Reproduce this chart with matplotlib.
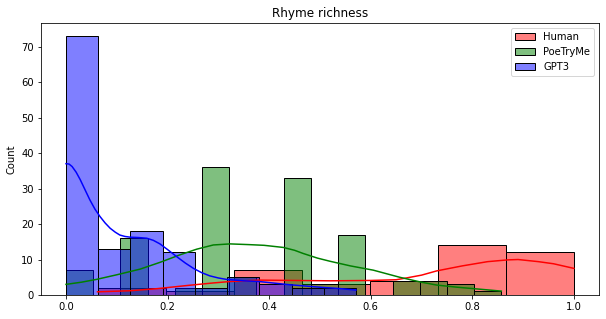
import numpy as np
import matplotlib
matplotlib.use('Agg')
import matplotlib.pyplot as plt
from matplotlib.colors import to_rgba

# Histogram bins (each series has its own auto bins)
human_edges = np.linspace(0.0625, 1.0, 8)
human_counts = [2, 1, 7, 3, 4, 14, 12]
poetryme_edges = np.linspace(0.0, 6 / 7, 17)
poetryme_counts = [7, 0, 16, 0, 2, 36, 5, 0, 33, 3, 17, 0, 4, 4, 3, 1]
gpt3_edges = np.linspace(0.0, 4 / 7, 10)
gpt3_counts = [73, 13, 18, 12, 2, 5, 3, 2, 2]

# KDE curves
human_kde_x = [0.062, 0.126, 0.18, 0.24, 0.29, 0.323, 0.38, 0.45, 0.52, 0.6, 0.65,
               0.67, 0.7, 0.73, 0.78, 0.83, 0.87, 0.89, 0.93, 0.96, 1.0]
human_kde_y = [0.9, 1.2, 1.8, 2.7, 3.4, 3.8, 4.2, 4.1, 4.0, 4.1, 4.3,
               4.8, 5.6, 6.8, 8.2, 9.4, 9.9, 10.0, 9.4, 8.8, 7.5]
poetryme_kde_x = [0, 0.03, 0.06, 0.1, 0.146, 0.185, 0.224, 0.257, 0.29, 0.323, 0.36,
                  0.39, 0.428, 0.45, 0.467, 0.495, 0.52, 0.56, 0.605, 0.657, 0.7,
                  0.73, 0.77, 0.802, 0.857]
poetryme_kde_y = [3.0, 3.6, 4.4, 5.7, 7.3, 9.2, 11.3, 12.9, 14.1, 14.4, 14.2,
                  14.0, 13.4, 12.6, 11.7, 10.4, 9.5, 8.2, 7.0, 5.0, 3.6,
                  2.8, 2.2, 1.8, 1.1]
gpt3_kde_x = [0.0, 0.006, 0.012, 0.02, 0.028, 0.037, 0.047, 0.057, 0.067, 0.077,
              0.087, 0.097, 0.106, 0.116, 0.126, 0.142, 0.159, 0.172, 0.185,
              0.2, 0.218, 0.235, 0.251, 0.267, 0.283, 0.3, 0.316, 0.35, 0.38,
              0.44, 0.5, 0.54, 0.571]
gpt3_kde_y = [37.0, 36.9, 36.2, 34.6, 32.5, 29.8, 26.8, 24.2, 22.1, 20.3,
              18.8, 17.7, 16.9, 16.5, 16.3, 16.2, 16.0, 15.4, 14.4,
              12.8, 10.8, 9.0, 7.5, 6.3, 5.4, 4.8, 4.4, 4.0, 3.8,
              2.9, 2.2, 1.8, 1.4]

series = [
    ('Human', 'red', human_edges, human_counts, human_kde_x, human_kde_y),
    ('PoeTryMe', 'green', poetryme_edges, poetryme_counts, poetryme_kde_x, poetryme_kde_y),
    ('GPT3', 'blue', gpt3_edges, gpt3_counts, gpt3_kde_x, gpt3_kde_y),
]

fig = plt.figure(figsize=(606 / 72, 319 / 72), dpi=72)
ax = fig.add_axes([0.067, 0.0752, 0.922, 0.8528])

for name, col, edges, counts, kx, ky in series:
    ax.bar(edges[:-1], counts, width=np.diff(edges), align='edge',
           facecolor=to_rgba(col, 0.5), edgecolor='black', linewidth=1, label=name)
    ax.plot(kx, ky, color=col, linewidth=1.5)

ax.set_title('Rhyme richness', fontsize=12)
ax.set_ylabel('Count')
ax.set_xlim(-0.05, 1.05)
ax.set_ylim(0, 73 * 1.05)
ax.set_xticks([0.0, 0.2, 0.4, 0.6, 0.8, 1.0])
ax.legend(loc='upper right')

fig.savefig('out.png', dpi=72)
